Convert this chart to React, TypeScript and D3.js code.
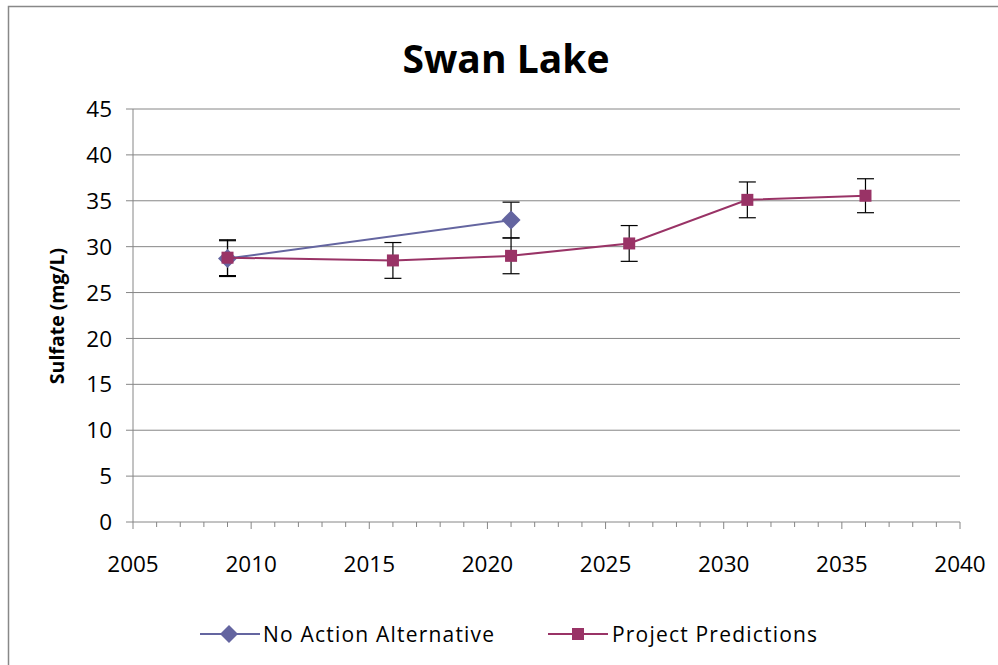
import React from "react";
import * as d3 from "d3";

const years = [2009, 2016, 2021, 2026, 2031, 2036];
const noActionYears = [2009, 2021];
const noActionValues = [28.7, 32.9];
const noActionErrors = [1.95, 1.95];
const projectValues = [28.8, 28.5, 29.0, 30.35, 35.1, 35.55];
const projectErrors = [1.95, 1.95, 1.95, 1.95, 1.95, 1.85];
const xTicks = [2005, 2010, 2015, 2020, 2025, 2030, 2035, 2040];
const yTicks = [0, 5, 10, 15, 20, 25, 30, 35, 40, 45];

const W = 998;
const H = 665;
const FONT = "'Open Sans', Lato, sans-serif";
const BLUE = "#6465A0";
const RED = "#993366";

export default function App() {
  const x = d3.scaleLinear().domain([2005, 2040]).range([133, 960]);
  const y = d3.scaleLinear().domain([0, 45]).range([522, 109]);
  const minor = d3.range(2005, 2041, 1);

  const line = d3
    .line<[number, number]>()
    .x((d) => x(d[0]))
    .y((d) => y(d[1]));

  const naPts: [number, number][] = noActionYears.map((yr, i) => [yr, noActionValues[i]]);
  const prPts: [number, number][] = years.map((yr, i) => [yr, projectValues[i]]);

  const errBar = (cx: number, v: number, e: number, key: string) => (
    <g key={key} stroke="#000" strokeWidth={1.2}>
      <line x1={x(cx)} x2={x(cx)} y1={y(v + e)} y2={y(v - e)} />
      <line x1={x(cx) - 8.5} x2={x(cx) + 8.5} y1={y(v + e)} y2={y(v + e)} />
      <line x1={x(cx) - 8.5} x2={x(cx) + 8.5} y1={y(v - e)} y2={y(v - e)} />
    </g>
  );

  const diamond = (cx: number, cy: number, r: number, key: string) => (
    <path
      key={key}
      d={`M${cx},${cy - r}L${cx + r},${cy}L${cx},${cy + r}L${cx - r},${cy}Z`}
      fill={BLUE}
    />
  );
  const square = (cx: number, cy: number, r: number, key: string) => (
    <rect key={key} x={cx - r} y={cy - r} width={2 * r} height={2 * r} fill={RED} />
  );

  return (
    <svg
      width={W}
      height={H}
      style={{ position: "absolute", left: 0, top: 0, background: "#fff" }}
      fontFamily={FONT}
    >
      <rect x={8.5} y={6.5} width={1100} height={1000} fill="#fff" stroke="#888" strokeWidth={1.5} />
      <text x={506} y={73} textAnchor="middle" fontSize={39} fontWeight="bold" fill="#000">
        Swan Lake
      </text>

      {/* gridlines */}
      {yTicks.map((t) =>
        t === 0 ? null : (
          <line key={"g" + t} x1={133} x2={960} y1={y(t)} y2={y(t)} stroke="#868686" strokeWidth={1} />
        )
      )}

      {/* y axis */}
      <line x1={133} x2={133} y1={y(45)} y2={y(0)} stroke="#868686" strokeWidth={1} />
      {yTicks.map((t) => (
        <g key={"yt" + t}>
          <line x1={126} x2={133} y1={y(t)} y2={y(t)} stroke="#868686" />
          <text x={112} y={y(t)} dy="0.36em" textAnchor="end" fontSize={22.5} fill="#000">
            {t}
          </text>
        </g>
      ))}

      {/* x axis */}
      <line x1={133} x2={960} y1={y(0)} y2={y(0)} stroke="#868686" strokeWidth={1} />
      {minor.map((t) => (
        <line
          key={"xm" + t}
          x1={x(t)}
          x2={x(t)}
          y1={y(0)}
          y2={y(0) + (t % 5 === 0 ? 7 : 5)}
          stroke="#868686"
        />
      ))}
      {xTicks.map((t) => (
        <text key={"xt" + t} x={x(t)} y={572} textAnchor="middle" fontSize={22.5} fill="#000">
          {t}
        </text>
      ))}

      <text
        transform={`translate(64,${316}) rotate(-90)`}
        textAnchor="middle"
        fontSize={19.5}
        fontWeight="bold"
        fill="#000"
      >
        Sulfate (mg/L)
      </text>

      {/* error bars */}
      {noActionYears.map((yr, i) => errBar(yr, noActionValues[i], noActionErrors[i], "ena" + i))}
      {years.map((yr, i) => errBar(yr, projectValues[i], projectErrors[i], "epr" + i))}

      {/* lines */}
      <path d={line(naPts) || ""} fill="none" stroke={BLUE} strokeWidth={2} />
      {naPts.map((p, i) => diamond(x(p[0]), y(p[1]), 9.5, "d" + i))}
      <path d={line(prPts) || ""} fill="none" stroke={RED} strokeWidth={2} />
      {prPts.map((p, i) => square(x(p[0]), y(p[1]), 6, "s" + i))}

      {/* legend */}
      <line x1={200} x2={260} y1={634} y2={634} stroke={BLUE} strokeWidth={2} />
      {diamond(229, 634, 9, "ld")}
      <text x={263} y={635} dy="0.35em" fontSize={21} letterSpacing={1.2} fill="#000">
        No Action Alternative
      </text>
      <line x1={548} x2={608} y1={634} y2={634} stroke={RED} strokeWidth={2} />
      {square(578, 634, 6, "ls")}
      <text x={612} y={635} dy="0.35em" fontSize={21} letterSpacing={1.2} fill="#000">
        Project Predictions
      </text>
    </svg>
  );
}
